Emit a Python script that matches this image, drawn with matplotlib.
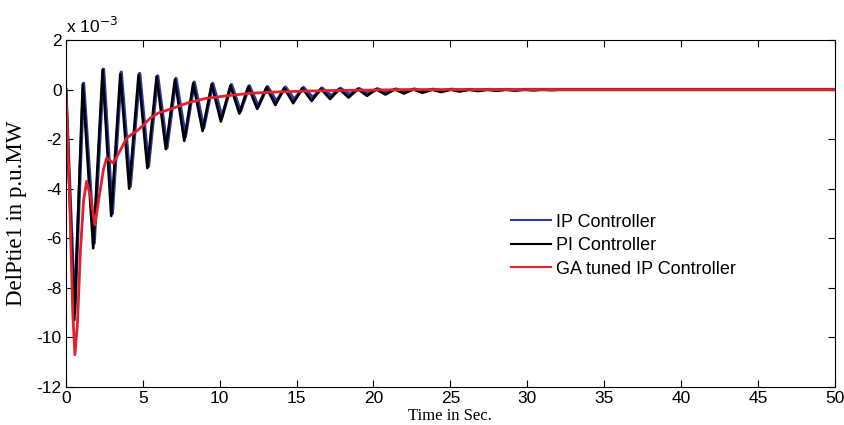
import numpy as np
import matplotlib
matplotlib.use("Agg")
import matplotlib.pyplot as plt

plt.rcParams['axes.unicode_minus'] = False
plt.rcParams['font.family'] = ['Liberation Sans', 'DejaVu Sans']

# time points (s) at the turning points of the oscillations
t_pi = [0, 0.55, 1.1, 1.78, 2.39, 2.95, 3.54, 4.12, 4.73, 5.3, 5.9, 6.5, 7.09, 7.7,
        8.28, 8.89, 9.48, 10.08, 10.7, 11.28, 11.86, 12.44, 13.04, 13.62, 14.2, 14.78,
        15.38, 15.98, 16.58, 17.18, 17.78, 18.38, 18.98, 19.58, 20.18, 20.78, 21.38,
        21.98, 22.58, 23.18, 23.8, 24.4, 25.0, 25.6, 26.2, 26.8, 27.4, 28.0, 28.6,
        29.2, 29.8, 30.4, 31.0, 31.6, 32.2, 50]
t_ip = [0, 0.58, 1.15, 1.84, 2.45, 3.02, 3.6, 4.19, 4.8, 5.37, 5.97, 6.57, 7.16, 7.77,
        8.35, 8.96, 9.55, 10.15, 10.77, 11.35, 11.93, 12.51, 13.11, 13.69, 14.27, 14.85,
        15.45, 16.05, 16.65, 17.25, 17.85, 18.45, 19.05, 19.65, 20.25, 20.85, 21.45,
        22.05, 22.65, 23.25, 23.87, 24.47, 25.07, 25.67, 26.27, 26.87, 27.47, 28.07, 28.67,
        29.27, 29.87, 30.47, 31.07, 31.67, 32.27, 50]

# DelPtie1 (x 1e-3 p.u.MW)
ip_ctrl = [0, -9.0, 0.25, -6.2, 0.82, -5.0, 0.7, -3.9, 0.65, -3.1, 0.55, -2.35, 0.45, -1.9,
           0.3, -1.55, 0.25, -1.1, 0.2, -0.88, 0.15, -0.68, 0.12, -0.48, 0.1, -0.4,
           0.08, -0.32, 0.06, -0.25, 0.05, -0.2, 0.04, -0.15, 0.03, -0.12, 0.02,
           -0.09, 0.02, -0.07, 0.01, -0.05, 0.01, -0.03, 0, -0.02, 0, -0.01, 0,
           -0.01, 0, 0, 0, 0, 0, 0]
pi_ctrl = [0, -9.3, 0.2, -6.4, 0.79, -5.1, 0.62, -4.0, 0.59, -3.17, 0.52, -2.4, 0.39, -2.07,
           0.25, -1.67, 0.21, -1.29, 0.16, -0.97, 0.12, -0.78, 0.08, -0.62, 0.06, -0.55,
           0.05, -0.46, 0.03, -0.38, 0.02, -0.32, 0.02, -0.25, 0.01, -0.2, 0.01,
           -0.16, 0.01, -0.13, 0, -0.1, 0, -0.08, 0, -0.06, 0, -0.05, 0,
           -0.04, 0, -0.03, 0, -0.02, 0, 0]

t_ga = [0, 0.1, 0.26, 0.45, 0.59, 0.75, 0.95, 1.15, 1.35, 1.6, 1.89, 2.2, 2.45, 2.65, 2.85,
        3.08, 3.5, 3.95, 4.3, 4.7, 5.1, 5.47, 6.0, 6.98, 8.0, 9.15, 10.5, 11.97, 14.0,
        17.0, 20.0, 22.0, 50]
ga_ip = [0, -1.5, -4.6, -9.0, -10.7, -9.5, -6.5, -4.5, -3.7, -4.3, -5.46, -4.2, -3.2, -2.77,
         -2.85, -2.97, -2.5, -1.96, -1.8, -1.63, -1.4, -1.16, -0.95, -0.75, -0.52, -0.35,
         -0.25, -0.15, -0.09, -0.04, -0.02, 0, 0]

fig = plt.figure(figsize=(8.44, 4.25), dpi=100)
ax = fig.add_axes([0.078, 0.0894, 0.9113, 0.8165])

ax.plot(t_ip, ip_ctrl, color='#2a3aa6', lw=2.4, label='IP Controller')
ax.plot(t_pi, pi_ctrl, color='black', lw=1.9, label='PI Controller')
ax.plot(t_ga, ga_ip, color='#e3202b', lw=2.0, label='GA tuned IP Controller')

ax.set_xlim(0, 50)
ax.set_ylim(-12, 2)
ax.set_xticks(np.arange(0, 51, 5))
ax.set_yticks(np.arange(-12, 3, 2))
ax.tick_params(direction='in', top=True, right=True, labelsize=12.5, length=5, pad=3)

ax.set_xlabel('Time in Sec.', family=['Liberation Serif'], fontsize=12, labelpad=1)
ax.set_ylabel('DelPtie1 in p.u.MW', family=['Liberation Serif'], fontsize=16.5, labelpad=7)
ax.text(0.0, 1.02, r'x 10$^{-3}$', transform=ax.transAxes, fontsize=12.5, va='baseline')

leg = ax.legend(loc='upper left', bbox_to_anchor=(0.606, 0.497), bbox_transform=fig.transFigure,
                frameon=False, fontsize=13, borderpad=0, borderaxespad=0,
                handlelength=2.2, handletextpad=0.25, labelspacing=0.36)
for line in leg.get_lines():
    line.set_linewidth(1.5)

fig.savefig('out.png', dpi=100)
